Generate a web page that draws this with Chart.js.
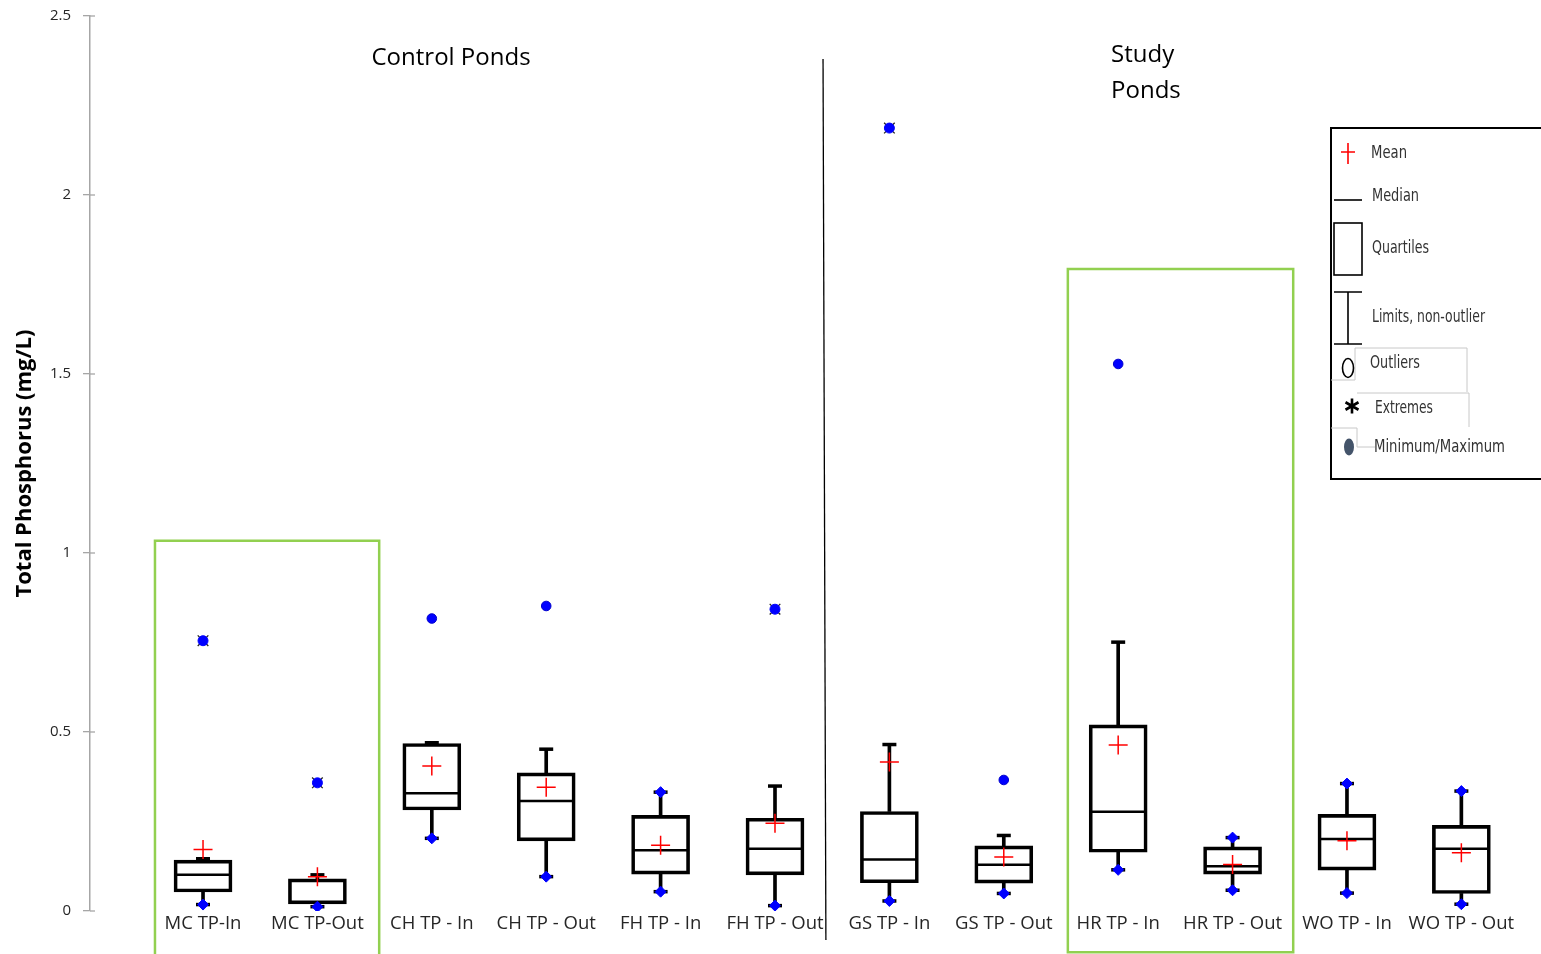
<!DOCTYPE html>
<html>
<head>
<meta charset="utf-8">
<title>Total Phosphorus by Pond</title>
<script src="https://cdn.jsdelivr.net/npm/chart.js@4/dist/chart.umd.min.js"></script>
<style>
  html, body { margin: 0; padding: 0; background: #fff; }
  #wrap { width: 1541px; height: 954px; position: relative; }
</style>
</head>
<body>
<div id="wrap"><canvas id="chart"></canvas></div>
<script>
// Sampling sites (inflow / outflow of each pond)
const categories = ['MC TP-In', 'MC TP-Out', 'CH TP - In', 'CH TP - Out', 'FH TP - In', 'FH TP - Out',
                    'GS TP - In', 'GS TP - Out', 'HR TP - In', 'HR TP - Out', 'WO TP - In', 'WO TP - Out'];

// Box-plot statistics, total phosphorus in mg/L
const lowerWhisker = [0.018, 0.012, 0.203, 0.096, 0.054, 0.015, 0.028, 0.049, 0.115, 0.058, 0.050, 0.019];
const quartile1    = [0.053, 0.020, 0.282, 0.196, 0.103, 0.101, 0.079, 0.078, 0.164, 0.103, 0.114, 0.049];
const medians      = [0.101, 0.084, 0.329, 0.307, 0.170, 0.174, 0.144, 0.129, 0.277, 0.125, 0.201, 0.174];
const quartile3    = [0.142, 0.090, 0.468, 0.386, 0.267, 0.259, 0.278, 0.182, 0.520, 0.179, 0.270, 0.239];
const upperWhisker = [0.146, 0.101, 0.470, 0.452, 0.332, 0.349, 0.465, 0.211, 0.751, 0.205, 0.356, 0.335];
const means        = [0.172, 0.096, 0.405, 0.346, 0.184, 0.245, 0.416, 0.151, 0.464, 0.130, 0.196, 0.163];
const outliers     = [null, null, 0.817, 0.852, null, null, null, 0.366, 1.528, null, null, null];
const extremes     = [0.755, 0.358, null, null, null, 0.843, 2.187, null, null, null, null, null];

const yTicks = [0, 0.5, 1, 1.5, 2, 2.5];
const groupNames = ['Control Ponds', ['Study', 'Ponds']];
const legendItems = ['Mean', 'Median', 'Quartiles', 'Limits, non-outlier', 'Outliers', 'Extremes', 'Minimum/Maximum'];

const FONT = "'Open Sans', 'Noto Sans', sans-serif";
const BLUE = '#0000ff';

const points = arr => arr.map((v, i) => (v == null ? null : { x: i, y: v })).filter(Boolean);
const ranges = (lo, hi) => lo.map((v, i) => ({ x: i, y: [v, hi[i]] }));

// The maximum is marked where no outlier or extreme lies above the whisker
const maxima = upperWhisker.map((v, i) => (outliers[i] == null && extremes[i] == null ? v : null));

const scatter = (data, extra) => Object.assign({
  type: 'line', data, showLine: false, pointHoverRadius: 0
}, extra);

// Group captions, separator, highlight frames and the symbol key
const overlay = {
  id: 'overlay',
  afterDraw(chart) {
    const { ctx } = chart;
    const xs = chart.scales.x, ys = chart.scales.y;
    const px = v => xs.getPixelForValue(v);
    const py = v => ys.getPixelForValue(v);
    ctx.save();

    // short inner tick marks on the value axis
    ctx.strokeStyle = '#a6a6a6';
    ctx.lineWidth = 1.3;
    yTicks.forEach(v => {
      const yy = py(v);
      ctx.beginPath(); ctx.moveTo(xs.left, yy); ctx.lineTo(xs.left + 5, yy); ctx.stroke();
    });

    // green highlight frames
    ctx.strokeStyle = '#92d050';
    ctx.lineWidth = 2.5;
    ctx.beginPath();
    ctx.moveTo(px(-0.42), chart.height + 5);
    ctx.lineTo(px(-0.42), py(1.034));
    ctx.lineTo(px(1.54), py(1.034));
    ctx.lineTo(px(1.54), chart.height + 5);
    ctx.stroke();
    ctx.beginPath();
    ctx.rect(px(7.56), py(1.793), px(9.53) - px(7.56), py(-0.115) - py(1.793));
    ctx.stroke();

    // separator between control and study ponds
    ctx.strokeStyle = '#000';
    ctx.lineWidth = 1.3;
    ctx.beginPath();
    ctx.moveTo(px(5.42), py(2.38));
    ctx.lineTo(px(5.445), py(-0.081));
    ctx.stroke();

    // group captions
    ctx.fillStyle = '#000';
    ctx.font = `24px ${FONT}`;
    ctx.textBaseline = 'middle';
    ctx.textAlign = 'center';
    ctx.fillText(groupNames[0], px(2.168), py(2.383));
    ctx.textAlign = 'left';
    ctx.fillText(groupNames[1][0], px(7.938), py(2.391));
    ctx.fillText(groupNames[1][1], px(7.938), py(2.290));

    // symbol key
    const L = chart.width - 211, T = 127;
    ctx.filter = 'blur(0.4px)';
    ctx.strokeStyle = '#000';
    ctx.lineWidth = 2;
    ctx.strokeRect(L + 1, T + 1, 240, 351);

    // faint frames around the lower entries
    ctx.strokeStyle = '#c8c8c8';
    ctx.lineWidth = 1;
    ctx.beginPath();
    ctx.moveTo(L + 1, T + 253); ctx.lineTo(L + 25, T + 253); ctx.lineTo(L + 25, T + 221);
    ctx.lineTo(L + 137, T + 221); ctx.lineTo(L + 137, T + 265);
    ctx.moveTo(L + 27, T + 266); ctx.lineTo(L + 139, T + 266); ctx.lineTo(L + 139, T + 300);
    ctx.moveTo(L + 1, T + 301); ctx.lineTo(L + 27, T + 301); ctx.lineTo(L + 27, T + 320);
    ctx.lineTo(L + 45, T + 320);
    ctx.stroke();

    // mean: red cross
    ctx.strokeStyle = '#ff0000';
    ctx.lineWidth = 1.6;
    ctx.beginPath();
    ctx.moveTo(L + 18, T + 16); ctx.lineTo(L + 18, T + 37);
    ctx.moveTo(L + 11, T + 25); ctx.lineTo(L + 25, T + 25);
    ctx.stroke();

    ctx.strokeStyle = '#000';
    ctx.lineWidth = 1.6;
    // median
    ctx.beginPath(); ctx.moveTo(L + 4, T + 73); ctx.lineTo(L + 32, T + 73); ctx.stroke();
    // quartiles
    ctx.strokeRect(L + 4, T + 96, 28, 52);
    // limits
    ctx.beginPath();
    ctx.moveTo(L + 4, T + 165); ctx.lineTo(L + 32, T + 165);
    ctx.moveTo(L + 4, T + 217); ctx.lineTo(L + 32, T + 217);
    ctx.moveTo(L + 18, T + 165); ctx.lineTo(L + 18, T + 217);
    ctx.stroke();
    // outliers: open ellipse
    ctx.beginPath(); ctx.ellipse(L + 18, T + 241, 5.5, 9.5, 0, 0, Math.PI * 2); ctx.stroke();
    // extremes: asterisk
    ctx.lineWidth = 2.6;
    ctx.beginPath();
    for (let k = 0; k < 3; k++) {
      const a = Math.PI / 2 + k * Math.PI / 3;
      ctx.moveTo(L + 22 + Math.cos(a) * 7.5, T + 279 + Math.sin(a) * 7.5);
      ctx.lineTo(L + 22 - Math.cos(a) * 7.5, T + 279 - Math.sin(a) * 7.5);
    }
    ctx.stroke();
    // minimum / maximum: filled ellipse
    ctx.fillStyle = '#44546a';
    ctx.beginPath(); ctx.ellipse(L + 19, T + 320, 5, 8.5, 0, 0, Math.PI * 2); ctx.fill();

    ctx.fillStyle = '#333';
    ctx.font = `18px 'Liberation Sans Narrow', 'DejaVu Sans Condensed', sans-serif`;
    ctx.textAlign = 'left';
    ctx.textBaseline = 'middle';
    const rows = [[41, 26, 36], [42, 69, 47], [42, 121, 57], [42, 190, 113], [40, 236, 50], [45, 281, 58], [44, 320, 131]];
    legendItems.forEach((t, i) => {
      const [dx, dy, w] = rows[i];
      ctx.fillText(t, L + dx, T + dy, w);
    });
    ctx.restore();
  }
};

new Chart(document.getElementById('chart'), {
  type: 'bar',
  data: {
    datasets: [
      { type: 'bar', data: ranges(quartile3, upperWhisker), backgroundColor: '#000', borderWidth: 0,
        barThickness: 3, grouped: false, order: 10 },
      { type: 'bar', data: ranges(lowerWhisker, quartile1), backgroundColor: '#000', borderWidth: 0,
        barThickness: 3, grouped: false, order: 10 },
      { type: 'bar', data: ranges(quartile1, quartile3), backgroundColor: 'rgba(255,255,255,0)',
        borderColor: '#000', borderWidth: 3, borderSkipped: false, barThickness: 58, grouped: false, order: 9 },
      scatter(points(medians), { pointStyle: 'line', pointRadius: 28.5, pointBorderWidth: 2.5,
        pointBorderColor: '#000', borderColor: '#000', order: 8 }),
      scatter(points(lowerWhisker).concat(points(upperWhisker)), { pointStyle: 'line', pointRadius: 7,
        pointBorderWidth: 3.5, pointBorderColor: '#000', borderColor: '#000', order: 7 }),
      scatter(points(lowerWhisker).concat(points(maxima)), { pointStyle: 'rectRot', pointRadius: 5.5,
        pointBackgroundColor: BLUE, pointBorderColor: BLUE, pointBorderWidth: 1, order: 6 }),
      scatter(points(extremes), { pointStyle: 'crossRot', pointRadius: 7.5, pointBorderWidth: 1.3,
        pointBorderColor: '#222', borderColor: '#222', order: 5 }),
      scatter(points(extremes), { pointStyle: 'circle', pointRadius: 5, pointBackgroundColor: BLUE,
        pointBorderColor: BLUE, pointBorderWidth: 1, order: 4 }),
      scatter(points(outliers), { pointStyle: 'circle', pointRadius: 4.8, pointBackgroundColor: BLUE,
        pointBorderColor: '#0000cc', pointBorderWidth: 1, order: 4 }),
      scatter(points(means), { pointStyle: 'cross', pointRadius: 9.5, pointBorderWidth: 1.5,
        pointBorderColor: '#ff0000', borderColor: '#ff0000', order: 0 })
    ]
  },
  options: {
    responsive: true,
    maintainAspectRatio: false,
    animation: false,
    events: [],
    layout: { autoPadding: false, padding: { top: 16, right: 11, left: 0, bottom: 0 } },
    plugins: { legend: { display: false }, tooltip: { enabled: false } },
    scales: {
      x: {
        type: 'linear', min: -0.988, max: 11.6, offset: false,
        afterBuildTicks: s => { s.ticks = categories.map((_, i) => ({ value: i })); },
        afterFit: s => { s.height = 43; },
        grid: { display: false, drawTicks: false },
        border: { display: false },
        ticks: { color: '#262626', font: { family: FONT, size: 18.5 }, padding: 2,
                 maxRotation: 0, autoSkip: false, callback: v => categories[v] }
      },
      y: {
        type: 'linear', min: 0, max: 2.5,
        afterBuildTicks: s => { s.ticks = yTicks.map(v => ({ value: v })); },
        afterFit: s => { s.width = 90; s.paddingTop = 0; s.paddingBottom = 0; },
        grid: { display: true, drawOnChartArea: false, drawTicks: true, tickLength: 7,
                color: '#a6a6a6', lineWidth: 1.3 },
        border: { display: true, color: '#a6a6a6', width: 1.5 },
        ticks: { color: '#262626', font: { family: FONT, size: 15 }, padding: 12,
                 callback: v => String(v) },
        title: { display: true, text: 'Total Phosphorus (mg/L)', color: '#000',
                 font: { family: FONT, size: 22, weight: 'bold' }, padding: { top: 12, bottom: 0 } }
      }
    }
  },
  plugins: [overlay]
});
</script>
</body>
</html>
